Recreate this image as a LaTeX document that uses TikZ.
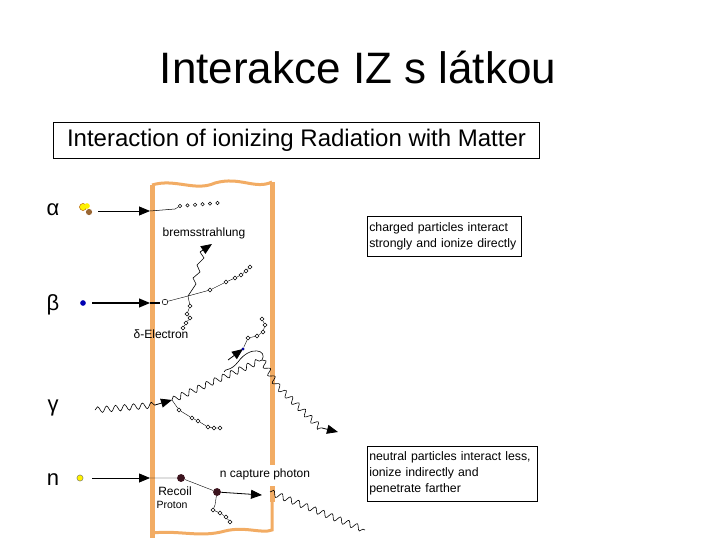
\documentclass[tikz,border=0pt]{standalone}
\usepackage{fontspec}
\setmainfont{Liberation Sans}
\usetikzlibrary{decorations.pathmorphing,arrows.meta}
\definecolor{slab}{RGB}{242,172,100}
\definecolor{dark}{RGB}{60,20,30}
\tikzset{
  ptr/.style={-{Triangle[length=11pt,width=9pt]},line width=0.8pt},
  wav/.style={decorate,decoration={snake,amplitude=3pt,segment length=9pt},line width=0.6pt},
  chainc/.style={circle,draw,fill=white,inner sep=1.4pt,line width=0.5pt},
  small/.style={font=\fontsize{12}{14}\selectfont,inner sep=0pt},
  greek/.style={font=\fontsize{22}{24}\selectfont},
  wall/.style={slab,line width=5pt},
  info/.style={draw,line width=0.6pt,align=left,font=\fontsize{12.3}{16}\selectfont,inner sep=2pt,anchor=north west}
}
\begin{document}
\begin{tikzpicture}[x=1pt,y=-1pt]
\useasboundingbox (0,0) rectangle (720,540);
\node (title) at (358,68) {\fontsize{44}{48}\selectfont Interakce IZ s látkou};
\node[draw,line width=1pt,minimum width=486pt,minimum height=36pt,anchor=north west] (box) at (53,122) {};
\node at (box.center) {\fontsize{24}{26}\selectfont Interaction of ionizing Radiation with Matter};
% slab
\draw[wall] (152,185) -- (152,538);
\draw[wall] (272,182) -- (272,465);
\draw[wall] (272,486) -- (272,502);
\draw[slab,line width=3pt] (152,185) .. controls (175,178) and (195,192) .. (215,183) .. controls (240,176) and (255,190) .. (272,182);
\draw[slab,line width=3pt] (152,533) .. controls (180,530) and (200,538) .. (225,531) .. controls (245,526) and (262,534) .. (272,530) -- (272,502);
% labels
\node[greek] at (53,210) {α};
\node[greek] at (53,305) {β};
\node[greek] at (53,408) {γ};
\node[greek] at (53,480) {n};
% alpha
\node[circle,fill=yellow,draw=orange!70!black,inner sep=2.5pt] (a1) at (83,207) {};
\node[circle,fill=brown!80!black,inner sep=2.2pt] (a2) at (89,212) {};
\node[circle,fill=yellow,inner sep=2pt] (a3) at (87,206) {};
\coordinate (ain) at (150,211);
\draw[ptr] (98,211) -- (ain);
\coordinate (a4) at (175,209);
\draw[line width=0.5pt] (ain) -- (a4);
\foreach \i in {0,...,5}{\node[chainc,inner sep=1.2pt] (ac\i) at (180+\i*7.5,206-\i*0.6) {};}
\draw (a4) -- (ac0);
\node[small] (brems) at (204,233) {bremsstrahlung};
% beta
\node[circle,fill=blue!70!black,inner sep=2pt] (b0) at (83,303) {};
\coordinate (bin) at (150,303);
\draw[ptr,line width=1.2pt] (92,303) -- (bin);
\draw[line width=1.2pt] (bin) -- (160,303);
\node[chainc,inner sep=2pt] (b1) at (165,302) {};
\coordinate (bj) at (188,296);
\draw (b1) -- (bj);
\node[chainc] (b2) at (210,290) {};
\draw (bj) -- (b2);
\foreach \i/\x/\y in {3/226/282,4/235/278,5/241/275,6/246/271,7/250/267}{\node[chainc] (b\i) at (\x,\y) {};}
\draw (b2) -- (b3) -- (b4) -- (b5) -- (b6) -- (b7);
\draw[line width=0.6pt] (bj) -- (196,284) -- (193,278) -- (200,272) -- (197,265) -- (204,258) -- (200,252);
\draw[ptr] (200,252) -- (212,244);
\node[chainc] (d1) at (190,306) {};
\node[chainc] (d2) at (187,314) {};
\node[chainc] (d3) at (190,318) {};
\node[chainc] (d4) at (186,323) {};
\node[chainc] (d5) at (183,328) {};
\draw (bj) -- (d1) -- (d2) -- (d3) -- (d4) -- (d5);
\node[small] (delta) at (161,334) {δ-Electron};
% gamma
\coordinate (g0) at (95,410);
\coordinate (g1) at (155,405);
\draw[wav] (g0) -- (g1);
\coordinate (gc) at (172,400);
\draw[ptr] (g1) -- (gc);
\node[chainc] (e1) at (179,410) {};
\node[chainc] (e2) at (192,418) {};
\node[chainc] (e3) at (198,421) {};
\node[chainc] (e4) at (208,427) {};
\node[chainc] (e5) at (214,428) {};
\node[chainc] (e6) at (220,428) {};
\draw (gc) -- (e1) -- (e2) -- (e3) -- (e4) -- (e5) -- (e6);
\coordinate (gp) at (262,360);
\draw[wav] (gc) -- (gp);
\coordinate (ph1) at (224,372);
\coordinate (ph) at (243,349);
\draw[line width=0.6pt] (gp) .. controls (268,350) and (250,345) .. (238,362) .. controls (230,372) and (225,368) .. (ph1);
\draw[ptr] (228,360) -- (ph);
\node[circle,fill=blue!60!black,inner sep=1.2pt] (phd) at (243,349) {};
\node[chainc] (p1) at (248,338) {};
\node[chainc] (p2) at (257,336) {};
\node[chainc] (p3) at (263,332) {};
\node[chainc] (p4) at (265,325) {};
\node[chainc] (p5) at (262,319) {};
\draw (phd) -- (p1) -- (p2) -- (p3) -- (p4) -- (p5);
\coordinate (gs) at (322,428);
\draw[wav] (gp) -- (275,382) -- (gs);
\draw[ptr] (gs) -- (338,432);
% neutron
\node[circle,fill=yellow,draw=black!60,inner sep=2.2pt] (n0) at (80,478) {};
\coordinate (nin) at (150,478);
\draw[ptr] (92,478) -- (nin);
\node[circle,fill=dark,inner sep=2.8pt] (n1) at (181,478) {};
\node[circle,fill=dark,inner sep=2.8pt] (n2) at (217,492) {};
\draw (nin) -- (n1) -- (n2);
\coordinate (n3) at (262,495);
\draw[ptr] (n2) -- (n3);
\coordinate (n4) at (365,530);
\draw[wav] (270,492) -- (n4);
\node[chainc] (r1) at (213,510) {};
\node[chainc] (r2) at (220,513) {};
\node[chainc] (r3) at (226,517) {};
\node[chainc] (r4) at (230,522) {};
\draw (n2) -- (215,505) -- (r1) -- (r2) -- (r3) -- (r4);
\node[small] (ncap) at (265,474) {n capture photon};
\node[small] (rec) at (175,491) {Recoil};
\node[small,font=\fontsize{10.5}{12}\selectfont] (pro) at (172,505) {Proton};
% info boxes
\node[info,text width=150pt,minimum height=40pt] (i1) at (367,216) {charged particles interact\\strongly and ionize directly};
\node[info,text width=166pt,minimum height=55pt] (i2) at (367,446) {neutral particles interact less,\\ionize indirectly and\\penetrate farther};
\end{tikzpicture}
\end{document}
